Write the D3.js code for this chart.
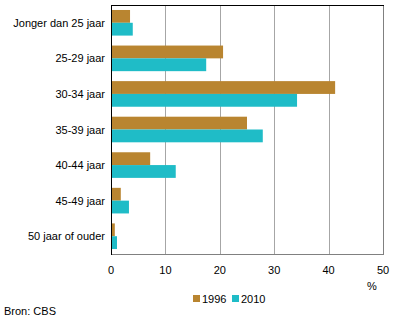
<!DOCTYPE html>
<html>
<head>
<meta charset="utf-8">
<script src="https://cdn.jsdelivr.net/npm/d3@7"></script>
<style>
  body { margin: 0; background: #fff; }
  text { font-family: "Liberation Sans", Arial, sans-serif; font-size: 11px; fill: #000; }
</style>
</head>
<body>
<div id="chart"></div>
<script>
let wSvg = 396; let hSvg = 323;
let xLeft = 111; let xRight = 383; let yTop = 5; let yBottom = 254;

const categories = ["Jonger dan 25 jaar", "25-29 jaar", "30-34 jaar", "35-39 jaar", "40-44 jaar", "45-49 jaar", "50 jaar of ouder"];
const years = ["1996", "2010"];
const values1996 = [3.5, 20.6, 41.2, 25.0, 7.2, 1.8, 0.7];
const values2010 = [4.0, 17.5, 34.2, 27.9, 11.9, 3.3, 1.1];
const xTicks = [0, 10, 20, 30, 40, 50];
const colors = ["#b98530", "#1fbcc7"];

const rows = categories.map((c, i) => ({cat: c, vals: [values1996[i], values2010[i]]}));

let svg = d3.select("#chart")
    .append("svg")
    .attr("width", wSvg)
    .attr("height", hSvg);

const xScale = d3.scaleLinear().domain([0, 50]).range([xLeft, xRight]);
const yScale = d3.scaleBand().domain(categories).range([yTop, yBottom]).paddingInner(0.28).paddingOuter(0.14);
const inner = d3.scaleBand().domain(years).range([0, yScale.bandwidth()]);

// verticale rasterlijnen
svg.append("g")
    .selectAll("line")
    .data(xTicks.slice(1))
    .enter()
    .append("line")
    .attr("x1", d => Math.round(xScale(d)) + 0.5)
    .attr("x2", d => Math.round(xScale(d)) + 0.5)
    .attr("y1", yTop)
    .attr("y2", yBottom)
    .attr("stroke", d => d === 50 ? "#808080" : "#a6a6a6")
    .attr("stroke-width", 1);

// balken
const groups = svg.append("g")
    .selectAll("g")
    .data(rows)
    .enter()
    .append("g")
    .attr("transform", d => `translate(0, ${yScale(d.cat)})`);

groups.selectAll("rect")
    .data(d => d.vals.map((v, j) => ({year: years[j], v: v, j: j})))
    .enter()
    .append("rect")
    .attr("x", xScale(0))
    .attr("y", d => inner(d.year))
    .attr("width", d => xScale(d.v) - xScale(0))
    .attr("height", inner.bandwidth())
    .attr("fill", d => colors[d.j]);

// kader
svg.append("line").attr("x1", xLeft).attr("x2", xRight + 1).attr("y1", yTop + 0.5).attr("y2", yTop + 0.5).attr("stroke", "#000");
svg.append("line").attr("x1", xLeft).attr("x2", xRight + 1).attr("y1", yBottom + 0.5).attr("y2", yBottom + 0.5).attr("stroke", "#808080");
svg.append("line").attr("x1", xLeft + 0.5).attr("x2", xLeft + 0.5).attr("y1", yTop).attr("y2", yBottom + 1).attr("stroke", "#000");

// categorie-labels
svg.append("g")
    .selectAll("text")
    .data(categories)
    .enter()
    .append("text")
    .attr("x", xLeft - 6)
    .attr("y", d => yScale(d) + yScale.bandwidth() / 2 + 4)
    .attr("text-anchor", "end")
    .text(d => d);

// x-as labels
svg.append("g")
    .selectAll("text")
    .data(xTicks)
    .enter()
    .append("text")
    .attr("x", d => xScale(d))
    .attr("y", 274)
    .attr("text-anchor", "middle")
    .text(d => d);

svg.append("text").attr("x", 372).attr("y", 290).attr("text-anchor", "middle").text("%");

// legenda
const legendX = [193, 232];
const legend = svg.append("g")
    .selectAll("g")
    .data(years)
    .enter()
    .append("g")
    .attr("transform", (d, i) => `translate(${legendX[i]}, 295)`);
legend.append("rect").attr("width", 7).attr("height", 7).attr("fill", (d, i) => colors[i]);
legend.append("text").attr("x", 9).attr("y", 8).text(d => d);

svg.append("text").attr("x", 4).attr("y", 315).text("Bron: CBS");
</script>
</body>
</html>
